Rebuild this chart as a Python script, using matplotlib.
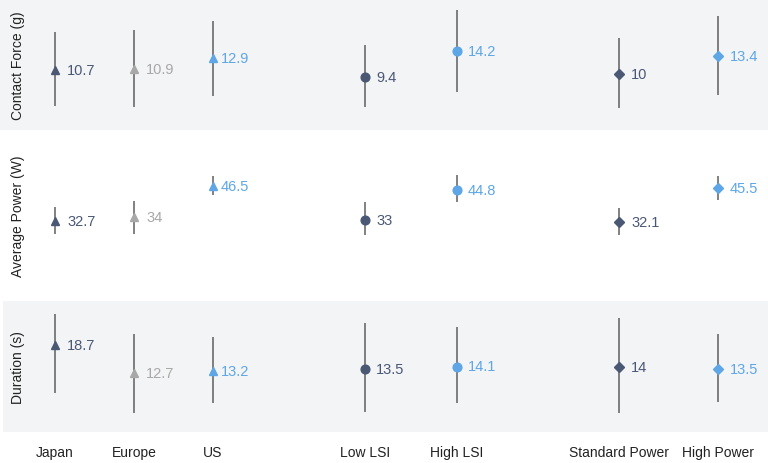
import matplotlib
matplotlib.use("Agg")
import matplotlib.pyplot as plt

categories = ["Japan", "Europe", "US", "Low LSI", "High LSI", "Standard Power", "High Power"]
markers = ["^", "^", "^", "o", "o", "D", "D"]

force = [10.7, 10.9, 12.9, 9.4, 14.2, 10, 13.4]
force_lo = [3.85, 3.7, 5.85, 3.8, 6.5, 3.5, 5.9]
force_hi = [17.8, 18.3, 19.9, 15.4, 22.0, 16.7, 20.9]

power = [32.7, 34, 46.5, 33, 44.8, 32.1, 45.5]
power_lo = [27.4, 27.4, 42.8, 27.1, 40.2, 27.1, 41.0]
power_hi = [38.1, 40.6, 50.4, 39.9, 50.7, 37.6, 50.2]

duration = [18.7, 12.7, 13.2, 13.5, 14.1, 14, 13.5]
dur_lo = [8.4, 4.1, 6.3, 4.3, 6.3, 4.1, 6.6]
dur_hi = [25.3, 21.0, 20.4, 23.4, 22.5, 24.6, 21.0]

row_labels = ["Contact Force (g)", "Average Power (W)", "Duration (s)"]

# layout (pixel space)
W, H = 768, 464
x_pos = [55, 134, 213, 365, 457, 619, 718]
label_dx = [12, 12, 8, 11, 11, 12, 12]
DARK = "#4a5874"
GRAY = "#a8a8a8"
BLUE = "#5ea6e6"
colors = [DARK, GRAY, BLUE, DARK, BLUE, DARK, BLUE]
msizes = {"^": 6.3, "o": 6.3, "D": 4.8}
BAND = "#f3f4f6"

plt.rcParams["font.family"] = ["Liberation Sans", "DejaVu Sans"]

fig = plt.figure(figsize=(W / 100, H / 100), dpi=100)
fig.patch.set_facecolor("white")

rows = [
    dict(vals=force, lo=force_lo, hi=force_hi, top=0, bot=130.7, ylim=(-0.57, 24.1), band=True, x0=0),
    dict(vals=power, lo=power_lo, hi=power_hi, top=130.7, bot=301.7, ylim=(1.14, 68.6), band=False, x0=3),
    dict(vals=duration, lo=dur_lo, hi=dur_hi, top=301.7, bot=433.3, ylim=(0, 28.2), band=True, x0=3),
]

axes = []
for i, r in enumerate(rows):
    ax = fig.add_axes([r["x0"] / W, (H - r["bot"]) / H, (W - r["x0"]) / W, (r["bot"] - r["top"]) / H])
    ax.set_facecolor(BAND if r["band"] else "white")
    ax.set_xlim(r["x0"], W)
    ax.set_ylim(*r["ylim"])
    for s in ax.spines.values():
        s.set_visible(False)
    ax.set_yticks([])
    ax.set_xticks([])
    for j, cat in enumerate(categories):
        x = x_pos[j]
        ax.vlines(x, r["lo"][j], r["hi"][j], color="#5f5f5f", lw=1.1, zorder=2)
        ax.plot([x], [r["vals"][j]], marker=markers[j], color=colors[j],
                ms=msizes[markers[j]], mec=colors[j], zorder=3, ls="none")
        ax.annotate(f"{r['vals'][j]:g}", (x, r["vals"][j]), xytext=(label_dx[j] * 0.72, 0),
                    textcoords="offset points", va="center", ha="left",
                    fontsize=10.5, color=colors[j])
    fig.text(18 / W, 1 - ((r["top"] + r["bot"]) / 2) / H, row_labels[i], rotation=90,
             ha="center", va="center", fontsize=10, color="#222222")
    axes.append(ax)

ax = axes[-1]
ax.set_xticks(x_pos)
ax.set_xticklabels(categories, fontsize=10, color="#222222")
ax.tick_params(axis="x", length=0, pad=9)

fig.savefig("out.png", dpi=100)
